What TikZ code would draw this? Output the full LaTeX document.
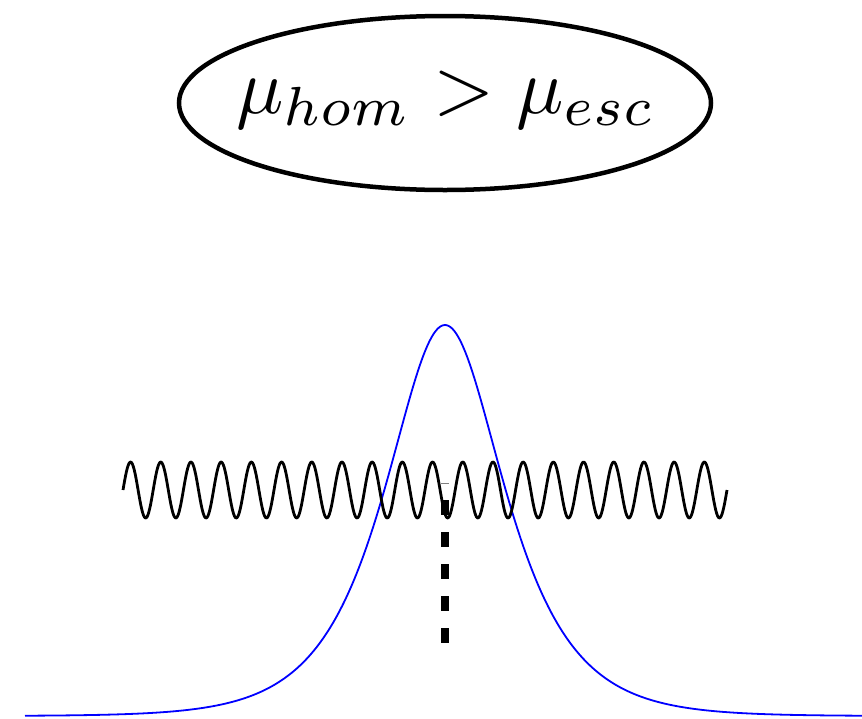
\documentclass[tikz,border=0pt]{standalone}
\begin{document}
\begin{tikzpicture}[x=1pt,y=-1pt,
  wave/.style={line width=2.8pt, line join=round},
  pulse/.style={blue, line width=1.8pt, line join=round},
  cutline/.style={line width=8pt, dash pattern=on 15pt off 17pt},
  eqbox/.style={line width=4.5pt}]
\useasboundingbox (0,0) rectangle (862,718);
% ellipse with the condition
\coordinate (ec) at (445,103);
\draw[eqbox] (ec) ellipse [x radius=266pt, y radius=87pt];
\node (eq) at (446,100) {\scalebox{7.87}{$\mu_{hom} > \mu_{esc}$}};
% blue pulse
\draw[pulse] plot[domain=25:862, samples=500, smooth] (\x, {716-391/cosh((\x-445)/53)});
% wave
\draw[wave] plot[domain=123:727, samples=700, smooth] (\x, {490-28*sin(11.9205*(\x-123))});
% small gray tick
\draw[gray, line width=0.6pt] (441,483) -- (449,483);
% dashed line
\coordinate (dtop) at (445,500);
\coordinate (dbot) at (445,643);
\draw[cutline] (dtop) -- (dbot);
\end{tikzpicture}
\end{document}
